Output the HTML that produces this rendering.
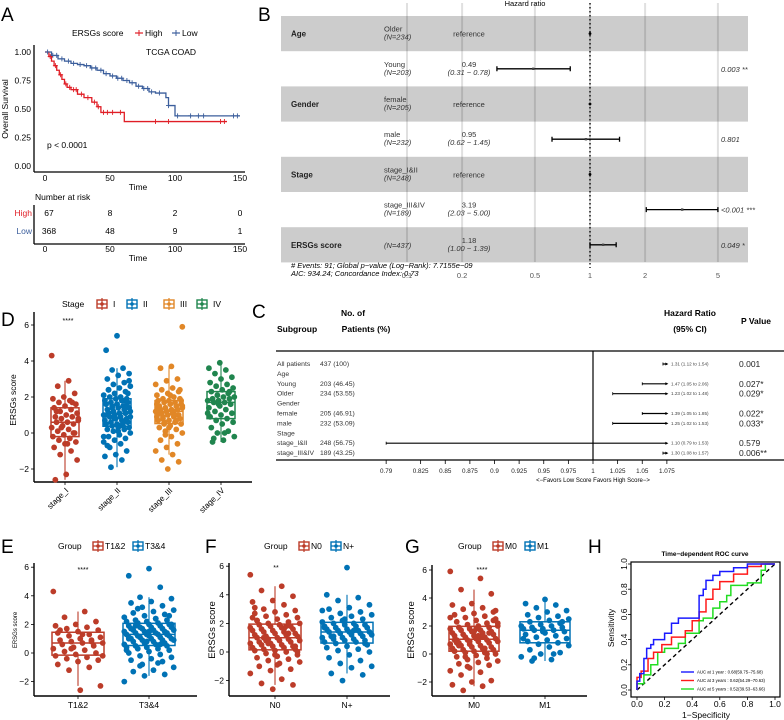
<!DOCTYPE html>
<html><head><meta charset="utf-8">
<style>
html,body{margin:0;padding:0;background:#fff;}
svg{display:block;font-family:"Liberation Sans",Arial,sans-serif;}
.lt{font-size:19px;fill:#000;}
</style></head>
<body>
<svg id="fig" width="784" height="720" viewBox="0 0 784 720" xmlns="http://www.w3.org/2000/svg">
<text class="lt" x="1" y="21">A</text>
<text class="lt" x="258" y="21">B</text>
<text class="lt" x="252" y="318">C</text>
<text class="lt" x="1" y="326">D</text>
<text class="lt" x="1" y="553">E</text>
<text class="lt" x="205" y="553">F</text>
<text class="lt" x="405" y="553">G</text>
<text class="lt" x="588" y="553">H</text>

<g id="pa" font-size="8.5">
  <text x="72" y="36">ERSGs score</text>
  <line x1="135" y1="33" x2="143" y2="33" stroke="#E01E26" stroke-width="1.2"/>
  <line x1="139" y1="30" x2="139" y2="36" stroke="#E01E26" stroke-width="1"/>
  <text x="145" y="36">High</text>
  <line x1="172" y1="33" x2="180" y2="33" stroke="#3B5E9C" stroke-width="1.2"/>
  <line x1="176" y1="30" x2="176" y2="36" stroke="#3B5E9C" stroke-width="1"/>
  <text x="182" y="36">Low</text>
  <text x="146" y="55">TCGA COAD</text>
  <text x="47" y="148">p &lt; 0.0001</text>
  <text x="0" y="0" transform="translate(8,109) rotate(-90)" text-anchor="middle">Overall Survival</text>
  <text x="138" y="190" text-anchor="middle">Time</text>
  <text x="35" y="200">Number at risk</text>
  <text x="32" y="216" text-anchor="end" fill="#E01E26">High</text>
  <text x="32" y="234" text-anchor="end" fill="#3B5E9C">Low</text>
  <text x="138" y="261" text-anchor="middle">Time</text>
</g>

<g font-size="7.5">
  <text x="525" y="6" text-anchor="middle">Hazard ratio</text>
  <text x="291" y="268" font-style="italic"># Events: 91; Global p−value (Log−Rank): 7.7155e−09</text>
  <text x="291" y="276" font-style="italic">AIC: 934.24; Concordance Index: 0.73</text>
</g>

<g>
  <text x="277" y="332" font-size="8.5" font-weight="bold">Subgroup</text>
  <text x="353" y="316" font-size="8.5" font-weight="bold" text-anchor="middle">No. of</text>
  <text x="366" y="332" font-size="8.5" font-weight="bold" text-anchor="middle">Patients (%)</text>
  <text x="690" y="316" font-size="8.5" font-weight="bold" text-anchor="middle">Hazard Ratio</text>
  <text x="690" y="332" font-size="8.5" font-weight="bold" text-anchor="middle">(95% CI)</text>
  <text x="756" y="324" font-size="8.5" font-weight="bold" text-anchor="middle">P Value</text>
  <line x1="276" y1="351" x2="784" y2="351" stroke="#000" stroke-width="1.2"/>
  <line x1="276" y1="460" x2="784" y2="460" stroke="#000" stroke-width="1.2"/>
  <line x1="593" y1="351" x2="593" y2="460" stroke="#000" stroke-width="1.2"/>
  <text x="593" y="482" font-size="6" text-anchor="middle">&lt;−Favors Low Score      Favors High Score−&gt;</text>
</g>

<g font-size="8.5">
  <text x="62" y="307">Stage</text>
  <text x="0" y="0" transform="translate(16,400) rotate(-90)" text-anchor="middle">ERSGs score</text>
  <text x="68" y="323" font-size="7" text-anchor="middle">****</text>
</g>
<g font-size="8.5">
  <text x="58" y="549">Group</text>
  <text x="0" y="0" transform="translate(17,630) rotate(-90)" font-size="6" text-anchor="middle">ERSGs score</text>
  <text x="83" y="572" font-size="7" text-anchor="middle">****</text>
  <text x="264" y="549">Group</text>
  <text x="0" y="0" transform="translate(215,630) rotate(-90)" font-size="9.5" text-anchor="middle">ERSGs score</text>
  <text x="276" y="570" font-size="7" text-anchor="middle">**</text>
  <text x="458" y="549">Group</text>
  <text x="0" y="0" transform="translate(414,630) rotate(-90)" font-size="9.5" text-anchor="middle">ERSGs score</text>
  <text x="482" y="572" font-size="7" text-anchor="middle">****</text>
</g>

<g>
  <text x="705" y="556" font-size="6.5" font-weight="bold" text-anchor="middle">Time−dependent ROC curve</text>
  <rect x="631" y="562" width="149" height="135" fill="none" stroke="#000" stroke-width="1.2"/>
  <text x="706" y="718" font-size="8.5" text-anchor="middle">1−Specificity</text>
  <text x="0" y="0" transform="translate(614,628) rotate(-90)" font-size="8.5" text-anchor="middle">Sensitivity</text>
</g>
<g id="dyn"></g>
</svg>
<script>
const kmHighTimes = [0,3,5,7,9,11,13,15,17,20,25,30,36,40,43,61,140];
const kmHighSurv  = [1,.96,.92,.88,.84,.80,.76,.72,.69,.67,.63,.60,.56,.52,.47,.39,.39];
const kmLowTimes  = [0,5,10,15,20,25,30,35,40,45,50,55,60,65,70,75,80,85,93,95,100,150];
const kmLowSurv   = [1,.97,.94,.92,.90,.89,.88,.86,.84,.81,.79,.77,.75,.73,.70,.68,.65,.64,.60,.53,.44,.44];
const kmHighCensor = [4,8,12,16,19,22,24,28,33,38,41,45,48,52,58,85,95,135,138];
const kmLowCensor  = [2,6,9,13,18,22,27,32,36,39,43,47,52,56,59,63,67,72,76,79,82,88,95,102,112,118,122,145,148];
const kmTicks = [0,50,100,150];
const kmYTicks = [0,0.25,0.5,0.75,1];
const riskHigh = [67,8,2,0];
const riskLow = [368,48,9,1];
const coxVars = ["Age","","Gender","","Stage","","ERSGs score"];
const coxLevels = ["Older","Young","female","male","stage_I&II","stage_III&IV",""];
const coxN = [234,203,205,232,248,189,437];
const coxHR = [null,0.49,null,0.95,null,3.19,1.18];
const coxLo = [null,0.31,null,0.62,null,2.03,1.00];
const coxHi = [null,0.78,null,1.45,null,5.00,1.39];
const coxP = ["","0.003 **","","0.801","","<0.001 ***","0.049 *"];
const coxTicks = [0.1,0.2,0.5,1,2,5];
const subLabels = ["All patients","Age","Young","Older","Gender","female","male","Stage","stage_I&II","stage_III&IV"];
const subN = ["437 (100)","","203 (46.45)","234 (53.55)","","205 (46.91)","232 (53.09)","","248 (56.75)","189 (43.25)"];
const subHR = [1.31,null,1.47,1.23,null,1.39,1.25,null,1.10,1.30];
const subLo = [1.12,null,1.05,1.02,null,1.05,1.02,null,0.79,1.08];
const subHi = [1.54,null,2.06,1.48,null,1.85,1.53,null,1.53,1.57];
const subP = ["0.001","","0.027*","0.029*","","0.022*","0.033*","","0.579","0.006**"];
const subTicks = [0.79,0.825,0.85,0.875,0.9,0.925,0.95,0.975,1,1.025,1.05,1.075];
const stageNames = ["stage_I","stage_II","stage_III","stage_IV"];
const stageI = [4.3,2.9,2.6,2.2,2.0,1.9,1.8,1.7,1.6,1.5,1.4,1.3,1.2,1.1,1.0,0.9,0.9,0.8,0.7,0.6,0.6,0.5,0.4,0.3,0.2,0.1,0.0,-0.1,-0.2,-0.3,-0.4,-0.5,-0.6,-0.8,-1.0,-1.2,-1.5,-2.3,-2.6,1.7,0.3,0.8,-0.6,1.2,0.0];
const stageII = [5.4,4.6,3.6,3.5,3.3,3.2,3.0,2.8,2.7,2.6,2.5,2.4,2.3,2.2,2.1,2.0,2.0,1.9,1.9,1.8,1.8,1.7,1.7,1.6,1.6,1.5,1.5,1.4,1.4,1.3,1.3,1.2,1.2,1.1,1.1,1.1,1.0,1.0,0.9,0.9,0.8,0.8,0.7,0.7,0.6,0.6,0.5,0.5,0.4,0.4,0.3,0.3,0.2,0.2,0.1,0.0,-0.1,-0.2,-0.3,-0.4,-0.5,-0.6,-0.8,-1.0,-1.2,-1.3,-1.5,-1.9,2.2,1.6,1.0,0.6,1.4,2.9,0.1,-0.7,1.8,1.2,0.9,0.4,2.4,1.5,0.8,-0.2];
const stageIII = [5.9,3.7,3.6,3.0,2.9,2.7,2.5,2.4,2.3,2.2,2.1,2.0,1.9,1.9,1.8,1.8,1.7,1.7,1.6,1.6,1.5,1.5,1.4,1.4,1.3,1.3,1.3,1.2,1.2,1.1,1.1,1.0,1.0,0.9,0.9,0.8,0.8,0.7,0.7,0.6,0.6,0.5,0.4,0.3,0.2,0.1,0.0,-0.2,-0.4,-0.6,-0.8,-1.0,-1.2,-1.5,-1.6,-2.0,1.6,1.2,0.9,2.4,0.3,1.4,1.0,0.5,1.8,2.1,1.1,0.7,-0.1,1.5];
const stageIV = [3.9,3.6,3.5,3.3,3.1,3.0,2.8,2.7,2.6,2.5,2.4,2.3,2.2,2.1,2.0,2.0,1.9,1.9,1.8,1.8,1.7,1.7,1.6,1.5,1.4,1.3,1.2,1.1,1.0,0.9,0.8,0.7,0.6,0.5,0.3,0.1,0.0,-0.2,-0.4,-0.5,2.3,1.6,1.1,0.0,-0.3];
const tNames = ["T1&2","T3&4"];
const t12 = [4.3,2.9,2.5,2.2,2.0,1.9,1.8,1.7,1.6,1.5,1.4,1.3,1.2,1.1,1.0,0.9,0.8,0.8,0.7,0.7,0.6,0.5,0.4,0.3,0.2,0.1,0.0,-0.1,-0.2,-0.3,-0.4,-0.5,-0.6,-0.8,-1.0,-1.2,-2.3,-2.6,1.6,0.9,0.3,-0.2,1.3];
const t34 = [5.9,5.4,4.6,3.9,3.8,3.6,3.5,3.3,3.2,3.0,2.9,2.8,2.7,2.6,2.5,2.4,2.3,2.3,2.2,2.2,2.1,2.1,2.0,2.0,1.9,1.9,1.8,1.8,1.8,1.7,1.7,1.7,1.6,1.6,1.6,1.5,1.5,1.5,1.4,1.4,1.4,1.3,1.3,1.3,1.2,1.2,1.2,1.1,1.1,1.1,1.0,1.0,1.0,0.9,0.9,0.9,0.8,0.8,0.7,0.7,0.6,0.6,0.5,0.5,0.4,0.4,0.3,0.3,0.2,0.1,0.0,-0.1,-0.2,-0.3,-0.4,-0.5,-0.6,-0.8,-1.0,-1.2,-1.3,-1.5,-1.6,-2.0,2.4,1.9,1.3,0.8,0.2,-0.7,3.1,2.6,1.5,1.0,0.6,-0.9,2.0,1.6];
const nNames = ["N0","N+"];
const n0 = [5.4,4.6,4.3,3.9,3.6,3.5,3.3,3.0,2.9,2.8,2.7,2.6,2.5,2.4,2.3,2.2,2.1,2.0,2.0,1.9,1.9,1.8,1.8,1.7,1.7,1.6,1.6,1.5,1.5,1.4,1.4,1.3,1.3,1.2,1.2,1.1,1.1,1.0,1.0,0.9,0.9,0.8,0.8,0.7,0.7,0.6,0.6,0.5,0.5,0.4,0.4,0.3,0.3,0.2,0.2,0.1,0.1,0.0,-0.1,-0.2,-0.3,-0.4,-0.5,-0.6,-0.7,-0.8,-1.0,-1.2,-1.3,-1.5,-1.9,-2.2,-2.3,-2.6,2.4,1.6,1.0,0.4,-0.2,3.1,1.8,0.8,0.0,-0.9,2.2,1.3,0.6];
const nPlus = [5.9,4.0,3.8,3.6,3.3,3.1,3.0,2.8,2.7,2.6,2.5,2.4,2.3,2.2,2.1,2.0,2.0,1.9,1.9,1.8,1.8,1.7,1.7,1.6,1.6,1.5,1.5,1.4,1.4,1.4,1.3,1.3,1.2,1.2,1.1,1.1,1.0,1.0,0.9,0.9,0.8,0.8,0.7,0.7,0.6,0.5,0.4,0.3,0.2,0.1,0.0,-0.2,-0.4,-0.6,-0.8,-1.0,-1.1,-1.5,-1.6,-2.0,2.9,1.5,1.1,0.6,2.3,1.7];
const mNames = ["M0","M1"];
const m0 = [5.9,5.4,4.6,4.3,3.6,3.5,3.3,3.2,3.0,2.9,2.8,2.7,2.6,2.5,2.4,2.3,2.2,2.1,2.0,2.0,1.9,1.9,1.8,1.8,1.7,1.7,1.6,1.6,1.5,1.5,1.4,1.4,1.3,1.3,1.2,1.2,1.1,1.1,1.0,1.0,1.0,0.9,0.9,0.8,0.8,0.7,0.7,0.6,0.6,0.5,0.5,0.4,0.4,0.3,0.3,0.2,0.2,0.1,0.1,0.0,-0.1,-0.2,-0.3,-0.4,-0.5,-0.6,-0.7,-0.8,-1.0,-1.2,-1.3,-1.5,-1.9,-2.0,-2.2,-2.3,-2.6,2.4,1.6,1.0,0.4,-0.2,3.1,1.8,0.8,0.0,-0.9,2.2,1.3,0.6,1.5,0.9,2.6,1.2];
const m1 = [3.9,3.6,3.5,3.3,3.1,3.0,2.8,2.7,2.6,2.5,2.4,2.3,2.2,2.1,2.0,2.0,1.9,1.9,1.8,1.8,1.7,1.7,1.6,1.5,1.4,1.3,1.2,1.1,1.0,0.9,0.8,0.7,0.6,0.5,0.3,0.1,0.0,-0.2,-0.4,-0.5,2.3,1.6,1.1,0.0,-0.3];
const boxYTicks = [-2,0,2,4,6];
const roc1Fpr = [0,0.02,0.05,0.07,0.10,0.12,0.20,0.25,0.30,0.35,0.45,0.45,0.48,0.50,0.55,0.60,0.70,0.80,0.90,1];
const roc1Tpr = [0,0.07,0.13,0.25,0.33,0.36,0.40,0.45,0.53,0.57,0.57,0.65,0.75,0.80,0.87,0.91,0.94,0.97,1.0,1];
const roc3Fpr = [0,0.03,0.08,0.12,0.18,0.25,0.35,0.40,0.45,0.50,0.55,0.60,0.70,0.80,0.90,0.97,1];
const roc3Tpr = [0,0.10,0.15,0.25,0.30,0.36,0.42,0.47,0.55,0.62,0.72,0.80,0.86,0.92,0.98,1,1];
const roc5Fpr = [0,0.05,0.10,0.15,0.20,0.30,0.35,0.45,0.48,0.55,0.60,0.65,0.68,0.70,0.80,0.90,0.93,1];
const roc5Tpr = [0,0.05,0.12,0.20,0.30,0.33,0.37,0.45,0.55,0.57,0.65,0.70,0.75,0.83,0.83,0.85,0.95,1];
const rocLegend = ["AUC at 1 year : 0.68(59.75−75.68)","AUC at 3 years : 0.62(54.29−70.63)","AUC at 5 years : 0.52(39.53−63.66)"];
const rocTicks = [0,0.2,0.4,0.6,0.8,1.0];

const NS = "http://www.w3.org/2000/svg";
const root = document.getElementById("dyn");
function mk(tag, attrs, txt){
  const e = document.createElementNS(NS, tag);
  for (const k in attrs) e.setAttribute(k, attrs[k]);
  if (txt !== undefined) e.textContent = txt;
  root.appendChild(e);
  return e;
}
let e;

// Panel A
const kmX = t => 45 + t*1.3;
const kmY = s => 166 - s*114;
function stepPath(T,S){
  let d = "M"+kmX(T[0])+","+kmY(S[0]);
  for (let i=1;i<T.length;i++){ d += " H"+kmX(T[i])+" V"+kmY(S[i]); }
  return d;
}
function survAt(T,S,t){ let s=S[0]; for(let i=0;i<T.length;i++){ if(T[i]<=t) s=S[i]; } return s; }
e = mk("line",{x1:34,y1:45,x2:34,y2:172,stroke:"#000","stroke-width":1.3});


e = mk("line",{x1:34,y1:172,x2:245,y2:172,stroke:"#000","stroke-width":1.3});


kmYTicks.forEach(v=>{
  e = mk("text",{x:31,y:kmY(v)+3,"font-size":8.5,"text-anchor":"end"}, v.toFixed(2));
  
  
});
kmTicks.forEach((v,i)=>{
  e = mk("text",{x:kmX(v),y:181,"font-size":8.5,"text-anchor":"middle"}, v);
  
  
  e = mk("text",{x:kmX(v),y:252,"font-size":8.5,"text-anchor":"middle"}, v);
  
  
  e = mk("text",{x:kmX(v)+ (i==0?4:0),y:216,"font-size":8.5,"text-anchor":"middle"}, riskHigh[i]);
  
  
  e = mk("text",{x:kmX(v)+ (i==0?4:0),y:234,"font-size":8.5,"text-anchor":"middle"}, riskLow[i]);
  
  
});
e = mk("line",{x1:34,y1:205,x2:34,y2:244,stroke:"#000","stroke-width":1.3});


e = mk("line",{x1:34,y1:244,x2:245,y2:244,stroke:"#000","stroke-width":1.3});


e = mk("path",{d:stepPath(kmLowTimes,kmLowSurv),fill:"none",stroke:"#3B5E9C","stroke-width":1.3});


e = mk("path",{d:stepPath(kmHighTimes,kmHighSurv),fill:"none",stroke:"#E01E26","stroke-width":1.3});


kmLowCensor.forEach(t=>{
  const x=kmX(t), y=kmY(survAt(kmLowTimes,kmLowSurv,t));
  e = mk("path",{d:`M${x-2.5},${y}H${x+2.5}M${x},${y-2.5}V${y+2.5}`,stroke:"#3B5E9C","stroke-width":0.9});
  
  
});
kmHighCensor.forEach(t=>{
  const x=kmX(t), y=kmY(survAt(kmHighTimes,kmHighSurv,t));
  e = mk("path",{d:`M${x-2.5},${y}H${x+2.5}M${x},${y-2.5}V${y+2.5}`,stroke:"#E01E26","stroke-width":0.9});
  
  
});

// Panel B
const bX = v => 590 + 183*Math.log10(v);
const rowTop = 16, rowH = 35.2;
coxVars.forEach((v,i)=>{
  if (i%2===0){
    e = mk("rect",{x:281,y:rowTop+i*rowH,width:467,height:rowH,fill:"#CCCCCC"});
    
    
  }
});
coxTicks.forEach(t=>{
  e = mk("line",{x1:bX(t),y1:3,x2:bX(t),y2:262,stroke:"#000","stroke-opacity":0.12,"stroke-width":2});
  
  
  e = mk("text",{x:bX(t),y:278,"font-size":7.5,fill:"#555","text-anchor":"middle"}, t);
  
  
});
e = mk("line",{x1:590,y1:3,x2:590,y2:268,stroke:"#000","stroke-width":1.3,"stroke-dasharray":"1.5,2.5"});


coxVars.forEach((v,i)=>{
  const cy = rowTop + i*rowH + rowH/2;
  if (v){
    e = mk("text",{x:291,y:cy+3,"font-size":8,"font-weight":"bold",fill:"#222"}, v);
    
    
  }
  if (coxLevels[i]){
    e = mk("text",{x:384,y:cy-2,"font-size":7.5,fill:"#333"}, coxLevels[i]);
    
    
  }
  e = mk("text",{x:384,y:coxLevels[i]?cy+6:cy+3,"font-size":7.5,"font-style":"italic",fill:"#333"}, "(N="+coxN[i]+")");
  
  
  if (coxHR[i]===null){
    e = mk("text",{x:469,y:cy+3,"font-size":7.5,"text-anchor":"middle",fill:"#333"}, "reference");
    
    
    e = mk("circle",{cx:590,cy:cy,r:1.4,fill:"#000"});
    
    
  } else {
    e = mk("text",{x:469,y:cy-2,"font-size":7.5,"text-anchor":"middle",fill:"#333"}, coxHR[i].toFixed(2));
    
    
    e = mk("text",{x:469,y:cy+6,"font-size":7.5,"text-anchor":"middle","font-style":"italic",fill:"#333"}, "("+coxLo[i].toFixed(2)+" − "+coxHi[i].toFixed(2)+")");
    
    
    const x1=bX(coxLo[i]), x2=bX(coxHi[i]);
    e = mk("path",{d:`M${x1},${cy}H${x2}M${x1},${cy-2.5}V${cy+2.5}M${x2},${cy-2.5}V${cy+2.5}`,stroke:"#000","stroke-width":1.3,fill:"none"});
    
    
    e = mk("rect",{x:bX(coxHR[i])-1.2,y:cy-1.2,width:2.4,height:2.4,fill:"#444"});
    
    
    e = mk("text",{x:721,y:cy+3,"font-size":7.5,"font-style":"italic",fill:"#333"}, coxP[i]);
    
    
  }
});

// Panel C
const cX = v => 593 + (v-1)*985;
const cMax = 1.075;
subLabels.forEach((lab,i)=>{
  const y = 366 + i*9.9;
  e = mk("text",{x:277,y:y,"font-size":6.8,fill:"#333"}, lab);
  
  
  if (subN[i]){
    e = mk("text",{x:320,y:y,"font-size":6.8,fill:"#333"}, subN[i]);
    
    
  }
  if (subHR[i]!==null){
    const cy = y-2;
    const x1 = cX(Math.min(subLo[i], cMax-0.004));
    const x2 = cX(Math.min(subHi[i], cMax));
    e = mk("line",{x1:x1,y1:cy,x2:x2,y2:cy,stroke:"#000","stroke-width":1.2});
    
    
    e = mk("line",{x1:x1,y1:cy-1.5,x2:x1,y2:cy+1.5,stroke:"#000","stroke-width":0.8});
    
    
    e = mk("path",{d:`M${x2+1.5},${cy} L${x2-1.5},${cy-1.5} L${x2-1.5},${cy+1.5}Z`,fill:"#000"});
    
    
    e = mk("text",{x:671,y:y-0.5,"font-size":4.6,fill:"#444"}, subHR[i].toFixed(2)+" ("+subLo[i].toFixed(2)+" to "+subHi[i].toFixed(2)+")");
    
    
    e = mk("text",{x:739,y:y+1,"font-size":8.5,fill:"#222"}, subP[i]);
    
    
  }
});
subTicks.forEach(t=>{
  e = mk("line",{x1:cX(t),y1:460,x2:cX(t),y2:464,stroke:"#000","stroke-width":0.8});
  
  
  e = mk("text",{x:cX(t),y:473,"font-size":6.3,"text-anchor":"middle",fill:"#222"}, t);
  
  
});

// Box panels
function quant(a,p){ const s=[...a].sort((x,y)=>x-y); const idx=(s.length-1)*p; const lo=Math.floor(idx), hi=Math.ceil(idx); return s[lo]+(s[hi]-s[lo])*(idx-lo); }
function boxPanel(cfg){
  const yS = v => cfg.y0 - v*cfg.unit;
  e = mk("line",{x1:cfg.ax,y1:cfg.top,x2:cfg.ax,y2:cfg.bottom,stroke:"#000","stroke-width":1.4});
  
  
  e = mk("line",{x1:cfg.ax,y1:cfg.bottom,x2:cfg.right,y2:cfg.bottom,stroke:"#000","stroke-width":1.4});
  
  
  boxYTicks.forEach(t=>{
    e = mk("line",{x1:cfg.ax-3,y1:yS(t),x2:cfg.ax,y2:yS(t),stroke:"#000","stroke-width":0.8});
    
    
    e = mk("text",{x:cfg.ax-5,y:yS(t)+3,"font-size":8.5,"text-anchor":"end"}, t===-2?"−2":t);
    
    
  });
  cfg.groups.forEach((g,gi)=>{
    const vals = g.values;
    const q1=quant(vals,.25), med=quant(vals,.5), q3=quant(vals,.75), iqr=q3-q1;
    const wlo = Math.min(...vals.filter(v=>v>=q1-1.5*iqr)), whi = Math.max(...vals.filter(v=>v<=q3+1.5*iqr));
    vals.forEach((v,i)=>{
      const jit = (((i*37+gi*11)%23)/22 - 0.5) * g.w * 0.95;
      e = mk("circle",{cx:g.cx+jit,cy:yS(v),r:2.9,fill:g.color});
      
      
    });
    e = mk("line",{x1:g.cx,y1:yS(whi),x2:g.cx,y2:yS(q3),stroke:g.color,"stroke-width":1.1});
    
    
    e = mk("line",{x1:g.cx,y1:yS(q1),x2:g.cx,y2:yS(wlo),stroke:g.color,"stroke-width":1.1});
    
    
    e = mk("rect",{x:g.cx-g.w/2,y:yS(q3),width:g.w,height:yS(q1)-yS(q3),fill:"none",stroke:g.color,"stroke-width":1.5});
    
    
    e = mk("line",{x1:g.cx-g.w/2,y1:yS(med),x2:g.cx+g.w/2,y2:yS(med),stroke:g.color,"stroke-width":1.5});
    
    
    e = mk("line",{x1:g.cx,y1:cfg.bottom,x2:g.cx,y2:cfg.bottom+3,stroke:"#000","stroke-width":0.8});
    
    
    if (cfg.rotate){
      e = mk("text",{x:0,y:0,"font-size":8,"text-anchor":"end",transform:`translate(${g.cx+4},${cfg.bottom+9}) rotate(-45)`}, g.label);
    } else {
      e = mk("text",{x:g.cx,y:cfg.bottom+12,"font-size":8.5,"text-anchor":"middle"}, g.label);
    }
    
    
    const lx = cfg.legX[gi], ly = cfg.legY;
    e = mk("rect",{x:lx,y:ly-4,width:10,height:8,fill:"none",stroke:g.color,"stroke-width":1.4});
    
    
    e = mk("path",{d:`M${lx},${ly}H${lx+10}M${lx+5},${ly-6}V${ly+6}`,stroke:g.color,"stroke-width":1.2});
    
    
    e = mk("circle",{cx:lx+5,cy:ly,r:1.8,fill:g.color});
    
    
    e = mk("text",{x:lx+12+(cfg.legGap||0),y:ly+3,"font-size":8.5}, cfg.legLabels[gi]);
    
    
  });
}
const RED="#BC3C29", BLUE="#0072B5", ORANGE="#E18727", GREEN="#20854E";
boxPanel({name:"stage",ax:34,top:312,bottom:482,right:252,y0:433,unit:18,rotate:true,legY:304,legX:[97,127,164,197],legGap:4,legLabels:["I","II","III","IV"],
  groups:[{values:stageI,cx:65,w:28,color:RED,label:stageNames[0]},{values:stageII,cx:117,w:28,color:BLUE,label:stageNames[1]},{values:stageIII,cx:169,w:28,color:ORANGE,label:stageNames[2]},{values:stageIV,cx:221,w:28,color:GREEN,label:stageNames[3]}]});
boxPanel({name:"t-stage",ax:34,top:563,bottom:696,right:197,y0:653,unit:14.3,legY:546,legX:[93,133],legLabels:tNames,
  groups:[{values:t12,cx:78,w:52,color:RED,label:tNames[0]},{values:t34,cx:149,w:52,color:BLUE,label:tNames[1]}]});
boxPanel({name:"n-stage",ax:229,top:563,bottom:696,right:390,y0:652,unit:14.3,legY:546,legX:[299,331],legLabels:nNames,
  groups:[{values:n0,cx:275,w:52,color:RED,label:nNames[0]},{values:nPlus,cx:347,w:52,color:BLUE,label:nNames[1]}]});
boxPanel({name:"m-stage",ax:432,top:565,bottom:696,right:587,y0:654,unit:14,legY:546,legX:[493,525],legLabels:mNames,
  groups:[{values:m0,cx:474,w:50,color:RED,label:mNames[0]},{values:m1,cx:545,w:50,color:BLUE,label:mNames[1]}]});

// Panel H
const hX = v => 637 + v*138;
const hY = v => 690 - v*126;
rocTicks.forEach(t=>{
  e = mk("text",{x:hX(t),y:707,"font-size":8.5,"text-anchor":"middle"}, t.toFixed(1));
  
  
  e = mk("text",{x:0,y:0,"font-size":8.5,"text-anchor":"middle",transform:`translate(627,${hY(t)}) rotate(-90)`}, t.toFixed(1));
  
  
  e = mk("line",{x1:hX(t),y1:697,x2:hX(t),y2:700,stroke:"#000","stroke-width":0.8});
  
  
  e = mk("line",{x1:628,y1:hY(t),x2:631,y2:hY(t),stroke:"#000","stroke-width":0.8});
  
  
});
e = mk("line",{x1:hX(0),y1:hY(0),x2:hX(1),y2:hY(1),stroke:"#000","stroke-width":1.4,"stroke-dasharray":"4,3"});


function rocPath(F,T){ let d="M"+hX(F[0])+","+hY(T[0]); for(let i=1;i<F.length;i++){ d+=" V"+hY(T[i])+" H"+hX(F[i]); } return d; }
const rocSeries = [[roc5Fpr,roc5Tpr,"#22DD22"],[roc3Fpr,roc3Tpr,"#FF1A1A"],[roc1Fpr,roc1Tpr,"#1A1AFF"]];
rocSeries.forEach((s,i)=>{
  e = mk("path",{d:rocPath(s[0],s[1]),fill:"none",stroke:s[2],"stroke-width":1.5});
  
  
});
rocLegend.forEach((t,i)=>{
  const y = 672 + i*8.5;
  const col = ["#1A1AFF","#FF1A1A","#22DD22"][i];
  e = mk("line",{x1:681,y1:y,x2:694,y2:y,stroke:col,"stroke-width":1.4});
  
  
  e = mk("text",{x:697,y:y+1.5,"font-size":4.3}, t);
  
  
});
</script>
</body></html>
